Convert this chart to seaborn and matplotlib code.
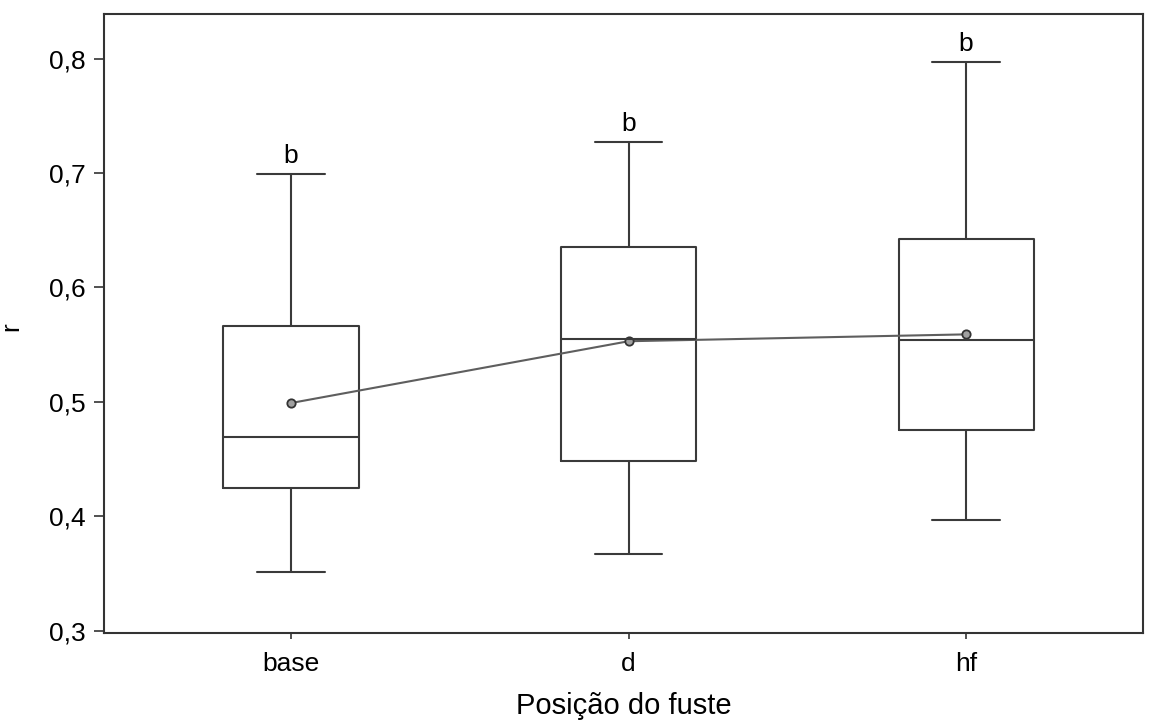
import numpy as np
import pandas as pd
import matplotlib
matplotlib.use("Agg")
import matplotlib.pyplot as plt
import seaborn as sns
from matplotlib.ticker import FuncFormatter

# ---- data ----
positions = ["base", "d", "hf"]
whisker_low = [0.351, 0.367, 0.397]
q1 = [0.425, 0.448, 0.475]
median = [0.469, 0.555, 0.554]
q3 = [0.566, 0.635, 0.642]
whisker_high = [0.699, 0.727, 0.797]
means = [0.499, 0.553, 0.559]
letters = ["b", "b", "b"]
yticks = [0.3, 0.4, 0.5, 0.6, 0.7, 0.8]

# five-number summaries per group (min, q1, median, q3, max)
rows = []
for p, a, b, c, d, e in zip(positions, whisker_low, q1, median, q3, whisker_high):
    for v in (a, b, c, d, e):
        rows.append({"pos": p, "r": v})
df = pd.DataFrame(rows)
df_mean = pd.DataFrame({"pos": positions, "r": means})

sns.set_style("ticks")
plt.rcParams["font.family"] = ["Liberation Sans", "DejaVu Sans"]
plt.rcParams["text.color"] = "black"
plt.rcParams["axes.labelcolor"] = "black"

fig = plt.figure(figsize=(11.53, 7.22), dpi=100)
ax = fig.add_axes([104 / 1153, 89 / 722, (1143 - 104) / 1153, (633 - 14) / 722])

edge = "#3a3a3a"
sns.boxplot(data=df, x="pos", y="r", order=positions, whis=(0, 100), width=0.4,
            fill=False, color=edge, linecolor=edge, linewidth=1.5, ax=ax)

sns.pointplot(data=df_mean, x="pos", y="r", order=positions, errorbar=None,
              color="#5e5e5e", markers="o", linestyles="-", markersize=6,
              linewidth=1.5, ax=ax)
for ln in ax.lines[-1:]:
    ln.set_markerfacecolor("#a0a0a0")
    ln.set_markeredgecolor("#333333")
    ln.set_markeredgewidth(1.3)

for i, (t, w) in enumerate(zip(letters, whisker_high)):
    ax.text(i, w + 0.0095, t, ha="center", va="baseline", fontsize=19, color="black")

ax.set_xlim(-0.554, 2.524)
ax.set_ylim(0.298, 0.839)
ax.set_yticks(yticks)
ax.yaxis.set_major_formatter(FuncFormatter(lambda v, p: f"{v:.1f}".replace(".", ",")))
ax.tick_params(axis="y", length=7, width=1.2, colors="#333333", labelcolor="black",
               labelsize=19, pad=6)
ax.tick_params(axis="x", length=4.5, width=1.2, colors="#333333", labelcolor="black",
               labelsize=19, pad=9)
for s in ax.spines.values():
    s.set_visible(True)
    s.set_color("#333333")
    s.set_linewidth(1.5)

ax.set_xlabel("Posição do fuste", fontsize=21, labelpad=12, color="black")
ax.set_ylabel("r", fontsize=19, color="black")
ax.yaxis.set_label_coords(-0.078, 0.495)

fig.savefig("out.png", dpi=100, facecolor="white")
